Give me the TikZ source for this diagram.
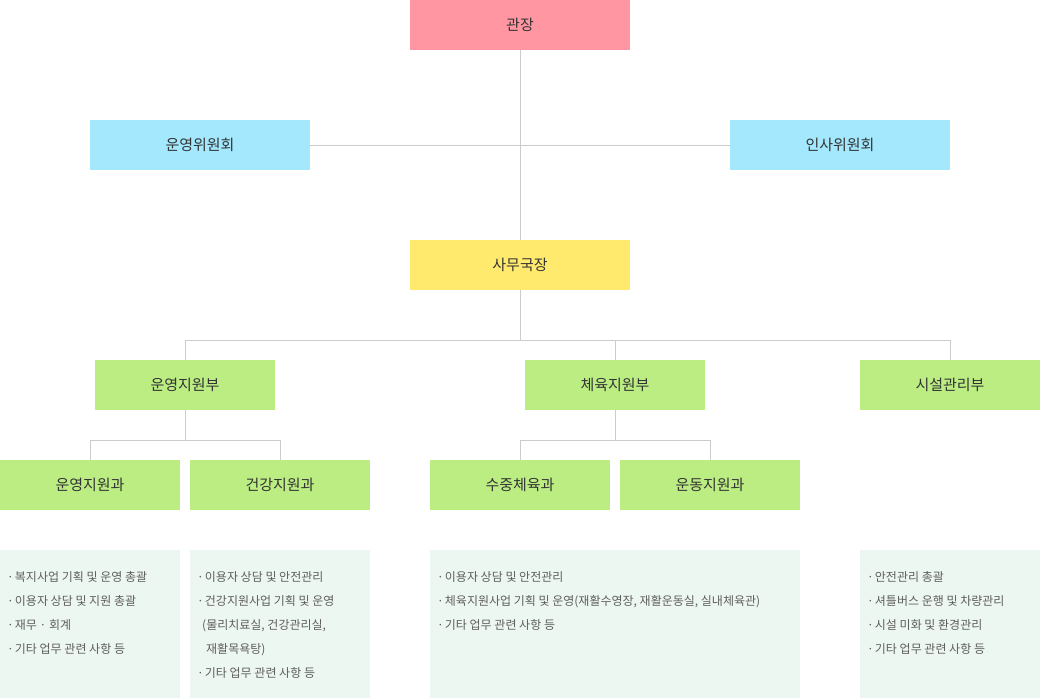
\documentclass[tikz,border=0pt]{standalone}
\usepackage{fontspec}
\setmainfont{Noto Sans CJK KR}
\usetikzlibrary{positioning}

\definecolor{chiefpink}{HTML}{FF96A2}
\definecolor{comblue}{HTML}{A3E8FD}
\definecolor{secyellow}{HTML}{FFEA6D}
\definecolor{deptgreen}{HTML}{BBED83}
\definecolor{infomint}{HTML}{EDF7F2}
\definecolor{linegray}{HTML}{CCCCCC}
\definecolor{titletext}{HTML}{333333}
\definecolor{infotext}{HTML}{5E5E5E}

\begin{document}
\begin{tikzpicture}[x=1pt,y=-1pt,
		box/.style={rectangle,minimum width=220pt,minimum height=50pt,inner sep=0pt,text=titletext,font=\fontsize{15}{16}\selectfont},
		dept/.style={box,fill=deptgreen,minimum width=180pt},
		info/.style={rectangle,fill=infomint,minimum height=148pt,inner sep=0pt,anchor=north west},
		duties/.style={align=left,inner sep=0pt,anchor=north west,text=infotext,font=\fontsize{12}{24}\selectfont},
		link/.style={draw=linegray,line width=1pt}]
		\useasboundingbox (0,0) rectangle (1040,698);

		\draw (520,25) node [box,fill=chiefpink] (chief) {관장};
		\draw (200,145) node [box,fill=comblue] (opcom) {운영위원회};
		\draw (840,145) node [box,fill=comblue] (hrcom) {인사위원회};
		\draw (520,265) node [box,fill=secyellow] (secretary) {사무국장};

		\draw (185,385) node [dept] (opdept) {운영지원부};
		\draw (615,385) node [dept] (sportdept) {체육지원부};
		\draw (950,385) node [dept] (facdept) {시설관리부};

		\draw (90,485) node [dept] (opteam) {운영지원과};
		\draw (280,485) node [dept] (healthteam) {건강지원과};
		\draw (520,485) node [dept] (swimteam) {수중체육과};
		\draw (710,485) node [dept] (exerteam) {운동지원과};

		\coordinate (deptbus) at (520,340);
		\coordinate (opbus) at (185,440);
		\coordinate (sportbus) at (615,440);

		\draw[link]
			(chief) edge (secretary)
			(opcom) edge (hrcom)
			(secretary) edge (deptbus)
			(opdept) edge (opbus)
			(sportdept) edge (sportbus)
		;
		\draw[link] (deptbus) -| (opdept);
		\draw[link] (deptbus) -| (sportdept);
		\draw[link] (deptbus) -| (facdept);
		\draw[link] (opbus) -| (opteam);
		\draw[link] (opbus) -| (healthteam);
		\draw[link] (sportbus) -| (swimteam);
		\draw[link] (sportbus) -| (exerteam);

		\node [info,minimum width=180pt] (opinfo) at (0,550) {};
		\node [info,minimum width=180pt] (healthinfo) at (190,550) {};
		\node [info,minimum width=370pt] (sportinfo) at (430,550) {};
		\node [info,minimum width=180pt] (facinfo) at (860,550) {};

		\node [duties,below right=21pt and 7pt of opinfo.north west] (opduty)
			{·\hspace{1pt}복지사업 기획 및 운영 총괄\\·\hspace{1pt}이용자 상담 및 지원 총괄\\·\hspace{1pt}재무 · 회계\\·\hspace{1pt}기타 업무 관련 사항 등};
		\node [duties,below right=21pt and 7pt of healthinfo.north west] (healthduty)
			{·\hspace{1pt}이용자 상담 및 안전관리\\·\hspace{1pt}건강지원사업 기획 및 운영\\\hspace{5pt}(물리치료실, 건강관리실,\\\hspace{9pt}재활목욕탕)\\·\hspace{1pt}기타 업무 관련 사항 등};
		\node [duties,below right=21pt and 7pt of sportinfo.north west] (sportduty)
			{·\hspace{1pt}이용자 상담 및 안전관리\\·\hspace{1pt}체육지원사업 기획 및 운영(재활수영장, 재활운동실, 실내체육관)\\·\hspace{1pt}기타 업무 관련 사항 등};
		\node [duties,below right=21pt and 7pt of facinfo.north west] (facduty)
			{·\hspace{1pt}안전관리 총괄\\·\hspace{1pt}셔틀버스 운행 및 차량관리\\·\hspace{1pt}시설 미화 및 환경관리\\·\hspace{1pt}기타 업무 관련 사항 등};
	\end{tikzpicture}
\end{document}
